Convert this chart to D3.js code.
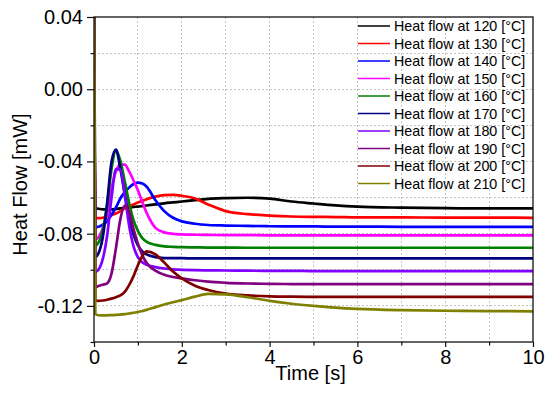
<!DOCTYPE html>
<html>
<head>
<meta charset="utf-8">
<script src="https://cdn.jsdelivr.net/npm/d3@7"></script>
<style>
  body { margin: 0; background: #fff; }
  #chart { font-family: "Liberation Sans", Arial, sans-serif; }
</style>
</head>
<body>
<div id="chart"></div>
<script>
// data
const timeSec = [0, 0.03, 0.1, 0.2, 0.3, 0.4, 0.5, 0.6, 0.7, 0.8, 0.9, 1.0, 1.1, 1.2, 1.4, 1.6,
  1.8, 2.0, 2.3, 2.6, 3.0, 3.5, 4.0, 4.5, 5.0, 5.5, 6.0, 7.0, 8.0, 9.0, 10.0];

const heatFlow120 = [0.045, -0.066, -0.0662, -0.0665, -0.0665, -0.0665, -0.0663, -0.066, -0.0658, -0.0655,
  -0.0652, -0.065, -0.0647, -0.0644, -0.0638, -0.0632, -0.0627, -0.0622, -0.0614, -0.0607, -0.0603,
  -0.0601, -0.0606, -0.0622, -0.0633, -0.0643, -0.065, -0.0656, -0.0659, -0.066, -0.066];
const heatFlow130 = [0.045, -0.0715, -0.0714, -0.0712, -0.0705, -0.0697, -0.0688, -0.0675, -0.066, -0.0648,
  -0.0638, -0.0628, -0.0618, -0.0609, -0.0595, -0.0587, -0.0585, -0.059, -0.0605, -0.0638, -0.0675,
  -0.0692, -0.07, -0.0705, -0.0707, -0.0708, -0.071, -0.071, -0.0711, -0.0711, -0.0712];
const heatFlow140 = [0.045, -0.0765, -0.0762, -0.075, -0.073, -0.0695, -0.0655, -0.0605, -0.057, -0.0545,
  -0.0525, -0.0517, -0.0522, -0.054, -0.0615, -0.0675, -0.0712, -0.0732, -0.0745, -0.0752, -0.0755,
  -0.0757, -0.0759, -0.076, -0.076, -0.0761, -0.0761, -0.0762, -0.0762, -0.0762, -0.0762];
const heatFlow150 = [0.045, -0.083, -0.082, -0.077, -0.0686, -0.055, -0.0455, -0.0418, -0.0418, -0.0455,
  -0.0505, -0.056, -0.0625, -0.0685, -0.0768, -0.0793, -0.0801, -0.0804, -0.0806, -0.0807, -0.0808,
  -0.0808, -0.0809, -0.0809, -0.081, -0.081, -0.081, -0.081, -0.081, -0.081, -0.081];
const heatFlow160 = [0.045, -0.0865, -0.085, -0.078, -0.064, -0.044, -0.0342, -0.0395, -0.051, -0.063,
  -0.0725, -0.0785, -0.0825, -0.0845, -0.0862, -0.087, -0.0873, -0.0875, -0.0876, -0.0877, -0.0877,
  -0.0878, -0.0878, -0.0878, -0.0878, -0.0878, -0.0878, -0.0878, -0.0878, -0.0878, -0.0878];
const heatFlow170 = [0.045, -0.093, -0.091, -0.082, -0.063, -0.04, -0.0335, -0.044, -0.058, -0.071,
  -0.0805, -0.0865, -0.0898, -0.0915, -0.093, -0.0935, -0.0936, -0.0936, -0.0937, -0.0937, -0.0937,
  -0.0937, -0.0937, -0.0937, -0.0937, -0.0937, -0.0937, -0.0937, -0.0937, -0.0937, -0.0937];
const heatFlow180 = [0.045, -0.101, -0.1, -0.094, -0.081, -0.06, -0.0442, -0.0445, -0.0585, -0.0755,
  -0.087, -0.093, -0.0958, -0.0972, -0.0985, -0.0993, -0.0998, -0.1, -0.1002, -0.1003, -0.1004,
  -0.1005, -0.1006, -0.1006, -0.1007, -0.1007, -0.1007, -0.1007, -0.1007, -0.1007, -0.1007];
const heatFlow190 = [0.045, -0.1095, -0.109, -0.1083, -0.1075, -0.102, -0.088, -0.072, -0.0645, -0.068,
  -0.0775, -0.0855, -0.092, -0.0962, -0.1005, -0.1028, -0.104, -0.1048, -0.1058, -0.1066, -0.1072,
  -0.1076, -0.1078, -0.1079, -0.1079, -0.1079, -0.1079, -0.1079, -0.1079, -0.1079, -0.1079];
const heatFlow200 = [0.045, -0.1168, -0.1172, -0.117, -0.1166, -0.116, -0.1152, -0.1142, -0.1122, -0.1085,
  -0.1035, -0.0975, -0.0925, -0.0898, -0.0915, -0.096, -0.101, -0.1048, -0.1088, -0.1112, -0.1132,
  -0.1142, -0.1147, -0.1149, -0.115, -0.115, -0.115, -0.115, -0.115, -0.115, -0.115];
const heatFlow210 = [0.045, -0.1245, -0.1252, -0.1253, -0.1252, -0.1251, -0.125, -0.1248, -0.1246, -0.1242,
  -0.1238, -0.1234, -0.1228, -0.1222, -0.1207, -0.1192, -0.118, -0.1168, -0.1149, -0.1134, -0.1136,
  -0.1152, -0.1172, -0.1188, -0.12, -0.121, -0.1217, -0.1224, -0.1227, -0.1229, -0.123];

const temperatures = [120, 130, 140, 150, 160, 170, 180, 190, 200, 210];
const seriesValues = [heatFlow120, heatFlow130, heatFlow140, heatFlow150, heatFlow160,
  heatFlow170, heatFlow180, heatFlow190, heatFlow200, heatFlow210];

const xTicks = [0, 2, 4, 6, 8, 10];
const xMinorTicks = [1, 3, 5, 7, 9];
const yTicks = [-0.12, -0.08, -0.04, 0.0, 0.04];
const yMinorTicks = [-0.14, -0.1, -0.06, -0.02, 0.02];
const xDomain = [0, 10];
const yDomain = [-0.14, 0.04];

class HeatFlowChart {
  colorPalette = {
    series: ["#000000", "#FF0000", "#0000FF", "#FF00FF", "#008000",
      "#000080", "#8000FF", "#800080", "#800000", "#808000"],
    frame: "#111111",
    grid: "#c4c4c4",
    text: "#000000",
  };

  config = {
    width: 545,
    height: 396,
    marginTop: 17,
    marginLeft: 94,
    marginBottom: 54,
    marginRight: 12,
    xMajorTick: 5,
    yMajorTick: 7,
    minorTick: 3.5,
    lineWidth: 2.7,
    tickFont: "20px",
    titleFont: "20px",
  };

  constructor(id) {
    this._id = id;
    this._plotW = this.config.width - this.config.marginLeft - this.config.marginRight;
    this._plotH = this.config.height - this.config.marginTop - this.config.marginBottom;
  }

  SetupLayout() {
    this._svg = d3.select(`#${this._id}`)
      .append("svg")
      .attr("width", this.config.width)
      .attr("height", this.config.height);
    this._g = this._svg.append("g")
      .attr("transform", `translate(${this.config.marginLeft},${this.config.marginTop})`);
    this._svg.append("defs").append("clipPath").attr("id", "plotClip")
      .append("rect").attr("width", this._plotW).attr("height", this._plotH);
  }

  SetupScaleFunctions() {
    this._x = d3.scaleLinear().domain(xDomain).range([0, this._plotW]);
    this._y = d3.scaleLinear().domain(yDomain).range([this._plotH, 0]);
  }

  DrawGrid() {
    const grid = this._g.append("g").attr("class", "grid");
    grid.selectAll("line.gx")
      .data([...xTicks, ...xMinorTicks].filter((v) => v > xDomain[0] && v < xDomain[1]))
      .enter().append("line")
      .attr("x1", (d) => this._x(d)).attr("x2", (d) => this._x(d))
      .attr("y1", 0).attr("y2", this._plotH);
    grid.selectAll("line.gy")
      .data([...yTicks, ...yMinorTicks].filter((v) => v > yDomain[0] + 1e-9 && v < yDomain[1] - 1e-9))
      .enter().append("line")
      .attr("y1", (d) => this._y(d)).attr("y2", (d) => this._y(d))
      .attr("x1", 0).attr("x2", this._plotW);
    grid.selectAll("line")
      .attr("stroke", this.colorPalette.grid)
      .attr("stroke-width", 1)
      .attr("stroke-dasharray", "2,2")
      .attr("shape-rendering", "crispEdges");
  }

  SetupXAxis() {
    const axis = d3.axisBottom(this._x).tickValues(xTicks)
      .tickSize(this.config.xMajorTick).tickPadding(3).tickFormat(d3.format("d"));
    const g = this._g.append("g").attr("class", "xAxis")
      .attr("transform", `translate(0,${this._plotH})`).call(axis);
    const minor = this._g.append("g").attr("class", "xMinor")
      .attr("transform", `translate(0,${this._plotH})`)
      .call(d3.axisBottom(this._x).tickValues(xMinorTicks).tickSize(this.config.minorTick).tickFormat(""));
    [g, minor].forEach((a) => {
      a.select(".domain").remove();
      a.selectAll(".tick line").attr("stroke", this.colorPalette.frame).attr("stroke-width", 1.2);
    });
    g.selectAll("text")
      .style("font-size", this.config.tickFont)
      .style("font-family", "'Liberation Sans', Arial, sans-serif")
      .attr("fill", this.colorPalette.text);

    this._g.append("text")
      .attr("x", this._plotW / 2 - 3)
      .attr("y", this._plotH + 38)
      .attr("text-anchor", "middle")
      .style("font-size", this.config.titleFont)
      .attr("fill", this.colorPalette.text)
      .text("Time [s]");
  }

  SetupYAxis() {
    const axis = d3.axisLeft(this._y).tickValues(yTicks)
      .tickSize(this.config.yMajorTick).tickPadding(4).tickFormat((d) => d.toFixed(2));
    const g = this._g.append("g").attr("class", "yAxis").call(axis);
    const minor = this._g.append("g").attr("class", "yMinor")
      .call(d3.axisLeft(this._y).tickValues(yMinorTicks).tickSize(this.config.minorTick).tickFormat(""));
    [g, minor].forEach((a) => {
      a.select(".domain").remove();
      a.selectAll(".tick line").attr("stroke", this.colorPalette.frame).attr("stroke-width", 1.2);
    });
    g.selectAll("text")
      .style("font-size", this.config.tickFont)
      .style("font-family", "'Liberation Sans', Arial, sans-serif")
      .attr("fill", this.colorPalette.text);

    this._g.append("text")
      .attr("transform", `translate(${-67},${this._plotH / 2 + 5}) rotate(-90)`)
      .attr("text-anchor", "middle")
      .style("font-size", this.config.titleFont)
      .attr("fill", this.colorPalette.text)
      .text("Heat Flow [mW]");
  }

  DrawLines() {
    const line = d3.line()
      .x((d) => this._x(d[0]))
      .y((d) => this._y(d[1]))
      .curve(d3.curveMonotoneX);
    this._g.append("g").attr("clip-path", "url(#plotClip)")
      .selectAll("path")
      .data(seriesValues)
      .enter().append("path")
      .attr("d", (vals) => line(timeSec.map((t, i) => [t, vals[i]])))
      .attr("fill", "none")
      .attr("stroke", (d, i) => this.colorPalette.series[i])
      .attr("stroke-width", this.config.lineWidth)
      .attr("stroke-linejoin", "round");
  }

  DrawFrame() {
    this._g.append("rect")
      .attr("width", this._plotW).attr("height", this._plotH)
      .attr("fill", "none")
      .attr("stroke", this.colorPalette.frame)
      .attr("stroke-width", 1.3);
  }

  DrawLegend() {
    const rowH = 17.5;
    const legend = this._g.append("g").attr("class", "legend")
      .attr("transform", `translate(${358 - this.config.marginLeft},${26 - this.config.marginTop})`);
    const rows = legend.selectAll("g").data(temperatures).enter().append("g")
      .attr("transform", (d, i) => `translate(0,${i * rowH})`);
    rows.append("line")
      .attr("x1", 0).attr("x2", 32).attr("y1", 0).attr("y2", 0)
      .attr("stroke", (d, i) => this.colorPalette.series[i])
      .attr("stroke-width", 1.5);
    rows.append("text")
      .attr("x", 36).attr("y", 5)
      .style("font-size", "14.3px")
      .attr("fill", this.colorPalette.text)
      .text((d) => `Heat flow at ${d} [°C]`);
  }

  DrawChart() {
    this.SetupLayout();
    this.SetupScaleFunctions();
    this.DrawGrid();
    this.DrawLines();
    this.SetupXAxis();
    this.SetupYAxis();
    this.DrawFrame();
    this.DrawLegend();
  }
}

new HeatFlowChart("chart").DrawChart();
</script>
</body>
</html>
